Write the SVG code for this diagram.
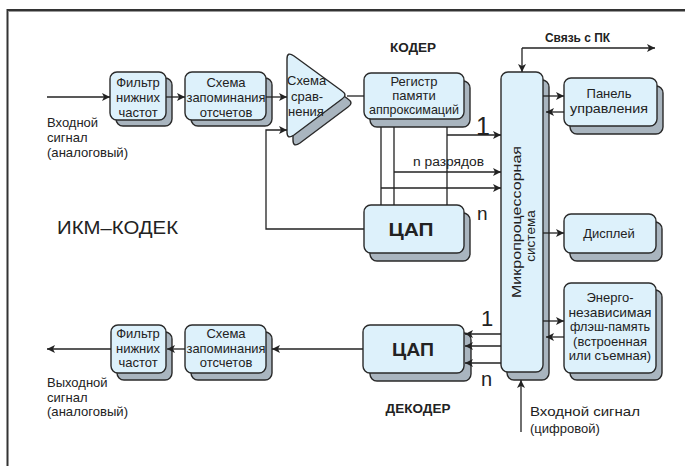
<svg xmlns="http://www.w3.org/2000/svg" width="685" height="466" viewBox="0 0 685 466">
<defs>
<marker id="ah" viewBox="0 0 10 10" refX="10" refY="5" markerWidth="9" markerHeight="8" markerUnits="userSpaceOnUse" orient="auto">
<path d="M0,0 L10,5 L0,10 L2.5,5 Z" fill="#222"/>
</marker>
<style>
.fr{fill:#ddf1fb;stroke:#2a2a2a;stroke-width:1.4}
.sh{fill:#a9b5bf;stroke:#2a2a2a;stroke-width:1.4}
.t{font-family:"Liberation Sans",Arial,sans-serif;font-size:13px;fill:#222}
.c{text-anchor:middle}
.b{font-weight:bold}
.ln{fill:none;stroke:#222;stroke-width:1.3}
.ar{fill:none;stroke:#222;stroke-width:1.3;marker-end:url(#ah)}
</style>
</defs>
<rect width="685" height="466" fill="#fff"/>
<path d="M7.5,466 V10 H685" fill="none" stroke="#333" stroke-width="2"/>
<path d="M8.5,11.5 H685" fill="none" stroke="#999" stroke-width="1"/>

<g id="lpf_in">
<rect class="sh" x="116" y="78" width="56" height="48" rx="7"/>
<rect class="fr" x="110" y="72" width="56" height="48" rx="7"/>
<text class="t c" x="138" y="87">Фильтр</text>
<text class="t c" x="138" y="102">нижних</text>
<text class="t c" x="138" y="117">частот</text>
</g>
<g id="sh_in">
<rect class="sh" x="191" y="78" width="81" height="48" rx="7"/>
<rect class="fr" x="185" y="72" width="81" height="48" rx="7"/>
<text class="t c" x="226" y="87">Схема</text>
<text class="t c" x="226" y="102" textLength="79" lengthAdjust="spacingAndGlyphs">запоминания</text>
<text class="t c" x="226" y="117">отсчетов</text>
</g>
<g id="comparator">
<path class="sh" transform="translate(6,8)" d="M287,59 Q287,51 294,56 L342,91 Q348,95 342,99 L294,135 Q287,140 287,132 Z"/>
<path class="fr" d="M287,59 Q287,51 294,56 L342,91 Q348,95 342,99 L294,135 Q287,140 287,132 Z"/>
<text class="t" x="287" y="85">Схема</text>
<text class="t" x="291" y="101">срав-</text>
<text class="t" x="288" y="116">нения</text>
</g>
<g id="register">
<rect class="sh" x="370" y="81" width="100" height="46" rx="7"/>
<rect class="fr" x="364" y="73" width="100" height="46" rx="7"/>
<text class="t c" x="414" y="86">Регистр</text>
<text class="t c" x="414" y="100">памяти</text>
<text class="t c" x="414" y="114" textLength="90" lengthAdjust="spacingAndGlyphs">аппроксимаций</text>
</g>
<g id="dac_enc">
<rect class="sh" x="370" y="213" width="100" height="48" rx="7"/>
<rect class="fr" x="364" y="205" width="100" height="48" rx="7"/>
<text class="t c b" x="411" y="236" style="font-size:18px" textLength="45" lengthAdjust="spacingAndGlyphs">ЦАП</text>
</g>
<g id="mcu">
<rect class="sh" x="507" y="80" width="42" height="300" rx="7"/>
<rect class="fr" x="501" y="72" width="42" height="300" rx="7"/>
<text class="t c" transform="translate(521,222) rotate(-90)" x="0" y="0" style="font-size:13.5px" textLength="152" lengthAdjust="spacingAndGlyphs">Микропроцессорная</text>
<text class="t c" transform="translate(535,236) rotate(-90)" x="0" y="0" style="font-size:13.5px">система</text>
</g>
<g id="panel">
<rect class="sh" x="570" y="86" width="93" height="48" rx="7"/>
<rect class="fr" x="564" y="78" width="93" height="48" rx="7"/>
<text class="t c" x="609" y="98">Панель</text>
<text class="t c" x="609" y="113" textLength="78" lengthAdjust="spacingAndGlyphs">управления</text>
</g>
<g id="display">
<rect class="sh" x="570" y="222" width="92" height="39" rx="7"/>
<rect class="fr" x="564" y="214" width="92" height="39" rx="7"/>
<text class="t c" x="609" y="238">Дисплей</text>
</g>
<g id="flash">
<rect class="sh" x="570" y="290" width="92" height="90" rx="7"/>
<rect class="fr" x="564" y="283" width="92" height="90" rx="7"/>
<text class="t c" x="610" y="302">Энерго-</text>
<text class="t c" x="610" y="317" textLength="83" lengthAdjust="spacingAndGlyphs">независимая</text>
<text class="t c" x="610" y="331" textLength="80" lengthAdjust="spacingAndGlyphs">флэш-память</text>
<text class="t c" x="610" y="346">(встроенная</text>
<text class="t c" x="610" y="360">или съемная)</text>
</g>
<g id="dac_dec">
<rect class="sh" x="370" y="333" width="101" height="48" rx="7"/>
<rect class="fr" x="363" y="325" width="101" height="48" rx="7"/>
<text class="t c b" x="413" y="356" style="font-size:18px" textLength="42" lengthAdjust="spacingAndGlyphs">ЦАП</text>
</g>
<g id="sh_out">
<rect class="sh" x="191" y="332" width="81" height="48" rx="7"/>
<rect class="fr" x="185" y="325" width="81" height="48" rx="7"/>
<text class="t c" x="226" y="338">Схема</text>
<text class="t c" x="226" y="353" textLength="79" lengthAdjust="spacingAndGlyphs">запоминания</text>
<text class="t c" x="226" y="367">отсчетов</text>
</g>
<g id="lpf_out">
<rect class="sh" x="117" y="332" width="55" height="48" rx="7"/>
<rect class="fr" x="111" y="325" width="55" height="48" rx="7"/>
<text class="t c" x="138" y="338">Фильтр</text>
<text class="t c" x="138" y="353">нижних</text>
<text class="t c" x="138" y="367">частот</text>
</g>

<g id="connectors">
<path class="ar" d="M47,97 H110"/>
<path class="ar" d="M166,97 H185"/>
<path class="ar" d="M266,97 H287"/>
<path class="ar" d="M364,229 H266 V130 H287"/>
<path class="ln" d="M347,96 H364"/>
<path class="ln" d="M381,127 V205 M394,127 V205 M447,127 V205"/>
<path class="ar" d="M447,135 H501"/>
<path class="ar" d="M394,172 H501"/>
<path class="ar" d="M381,188 H501"/>
<path class="ar" d="M522,48 H655"/>
<path class="ar" d="M522,48 V72"/>
<path class="ar" d="M543,96 H564"/>
<path class="ar" d="M564,112 H546"/>
<path class="ar" d="M543,233 H564"/>
<path class="ar" d="M543,321 H564"/>
<path class="ar" d="M564,337 H546"/>
<path class="ar" d="M501,334 H465"/>
<path class="ar" d="M501,346 H465"/>
<path class="ar" d="M501,363 H465"/>
<path class="ar" d="M363,349 H272"/>
<path class="ar" d="M185,349 H167"/>
<path class="ar" d="M111,349 H47"/>
<path class="ar" d="M521,432 V380"/>
</g>

<g id="labels">
<text class="t" x="47" y="127">Входной</text>
<text class="t" x="47" y="142">сигнал</text>
<text class="t" x="47" y="157" textLength="81" lengthAdjust="spacingAndGlyphs">(аналоговый)</text>
<text class="t" x="47" y="387">Выходной</text>
<text class="t" x="47" y="402">сигнал</text>
<text class="t" x="47" y="416" textLength="81" lengthAdjust="spacingAndGlyphs">(аналоговый)</text>
<text class="t" x="530" y="416" textLength="110" lengthAdjust="spacingAndGlyphs">Входной сигнал</text>
<text class="t" x="530" y="433">(цифровой)</text>
<text class="t c b" x="413" y="52" style="font-size:13.5px">КОДЕР</text>
<text class="t c b" x="418" y="413" style="font-size:13.5px">ДЕКОДЕР</text>
<text class="t b" x="545" y="42" style="font-size:12px" textLength="65" lengthAdjust="spacingAndGlyphs">Связь с ПК</text>
<text class="t" x="57" y="234" style="font-size:19px" textLength="121" lengthAdjust="spacingAndGlyphs">ИКМ–КОДЕК</text>
<text class="t" x="413" y="166" style="font-size:12px" textLength="71" lengthAdjust="spacingAndGlyphs">n разрядов</text>
<text class="t" x="476" y="135" style="font-size:25px">1</text>
<text class="t" x="477" y="220" style="font-size:19px">n</text>
<text class="t" x="481" y="326" style="font-size:22px">1</text>
<text class="t" x="481" y="386" style="font-size:20px">n</text>
</g>
</svg>
